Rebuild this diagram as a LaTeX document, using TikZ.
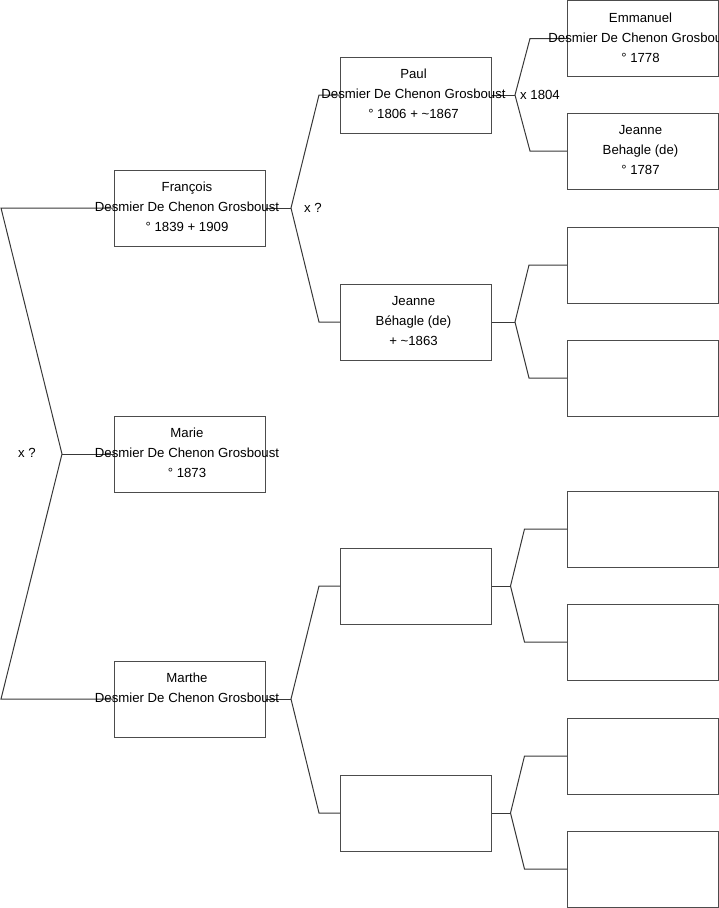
\documentclass[tikz,border=0pt]{standalone}
\usepackage{fontspec}
\setmainfont{Liberation Sans}
\begin{document}
\begin{tikzpicture}[x=1pt,y=-1pt,
  pbox/.style={draw=black!70,line width=1pt,rectangle,minimum width=151pt,minimum height=76pt,inner sep=0pt},
  ptxt/.style={anchor=base,inner sep=0pt,xshift=-2.5pt,font=\fontsize{13.2}{16}\selectfont,text=black},
  lbl/.style={anchor=base west,inner sep=0pt,font=\fontsize{13.2}{16}\selectfont,text=black},
  conn/.style={draw=black!78,line width=1pt,line join=miter}]
\useasboundingbox (0,0) rectangle (719,908);
\begin{scope}
\clip (0,0) rectangle (719,908);
% level 0
\node[pbox] (fr) at (189.5,208) {};
\node[pbox] (ma) at (189.5,454) {};
\node[pbox] (mt) at (189.5,699) {};
% level 1
\node[pbox] (pa) at (416,95) {};
\node[pbox] (je) at (416,322) {};
\node[pbox] (e1) at (416,586) {};
\node[pbox] (e2) at (416,813) {};
% level 2
\node[pbox] (em) at (643,38.5) {};
\node[pbox] (jb) at (643,151) {};
\node[pbox] (g3) at (643,265) {};
\node[pbox] (g4) at (643,378) {};
\node[pbox] (g5) at (643,529) {};
\node[pbox] (g6) at (643,642) {};
\node[pbox] (g7) at (643,756) {};
\node[pbox] (g8) at (643,869) {};
% connectors
\coordinate (r) at (62,454);
\coordinate (ra) at (1,208);
\coordinate (rb) at (1,699);
\draw[conn] (fr.west) -- (ra) -- (r) -- (rb) -- (mt.west);
\draw[conn] (r) -- (ma.west);
\coordinate (fj) at (291,208);
\coordinate (fa) at (319,95);
\coordinate (fb) at (319,322);
\draw[conn] (fr.east) -- (fj);
\draw[conn] (pa.west) -- (fa) -- (fj) -- (fb) -- (je.west);
\coordinate (mj) at (291,699);
\coordinate (mja) at (319,586);
\coordinate (mjb) at (319,813);
\draw[conn] (mt.east) -- (mj);
\draw[conn] (e1.west) -- (mja) -- (mj) -- (mjb) -- (e2.west);
\coordinate (pj) at (515,95);
\coordinate (pja) at (530,38.5);
\coordinate (pjb) at (530,151);
\draw[conn] (pa.east) -- (pj);
\draw[conn] (em.west) -- (pja) -- (pj) -- (pjb) -- (jb.west);
\coordinate (jj) at (515,322);
\coordinate (jja) at (529,265);
\coordinate (jjb) at (529,378);
\draw[conn] (je.east) -- (jj);
\draw[conn] (g3.west) -- (jja) -- (jj) -- (jjb) -- (g4.west);
\coordinate (aj) at (510.5,586);
\coordinate (aja) at (524.5,529);
\coordinate (ajb) at (524.5,642);
\draw[conn] (e1.east) -- (aj);
\draw[conn] (g5.west) -- (aja) -- (aj) -- (ajb) -- (g6.west);
\coordinate (bj) at (510.5,813);
\coordinate (bja) at (524.5,756);
\coordinate (bjb) at (524.5,869);
\draw[conn] (e2.east) -- (bj);
\draw[conn] (g7.west) -- (bja) -- (bj) -- (bjb) -- (g8.west);
% texts
\node[ptxt] (fr1) at ([yshift=-22pt]fr.north) {François};
\node[ptxt] (fr2) at ([yshift=-42pt]fr.north) {Desmier De Chenon Grosboust};
\node[ptxt] (fr3) at ([yshift=-62pt]fr.north) {° 1839 + 1909};
\node[ptxt] (ma1) at ([yshift=-22pt]ma.north) {Marie};
\node[ptxt] (ma2) at ([yshift=-42pt]ma.north) {Desmier De Chenon Grosboust};
\node[ptxt] (ma3) at ([yshift=-62pt]ma.north) {° 1873};
\node[ptxt] (mt1) at ([yshift=-22pt]mt.north) {Marthe};
\node[ptxt] (mt2) at ([yshift=-42pt]mt.north) {Desmier De Chenon Grosboust};
\node[ptxt] (pa1) at ([yshift=-22pt]pa.north) {Paul};
\node[ptxt] (pa2) at ([yshift=-42pt]pa.north) {Desmier De Chenon Grosboust};
\node[ptxt] (pa3) at ([yshift=-62pt]pa.north) {° 1806 + \textasciitilde 1867};
\node[ptxt] (je1) at ([yshift=-22pt]je.north) {Jeanne};
\node[ptxt] (je2) at ([yshift=-42pt]je.north) {Béhagle (de)};
\node[ptxt] (je3) at ([yshift=-62pt]je.north) {+ \textasciitilde 1863};
\node[ptxt] (em1) at ([yshift=-22pt]em.north) {Emmanuel};
\node[ptxt] (em2) at ([yshift=-42pt]em.north) {Desmier De Chenon Grosboust};
\node[ptxt] (em3) at ([yshift=-62pt]em.north) {° 1778};
\node[ptxt] (jb1) at ([yshift=-22pt]jb.north) {Jeanne};
\node[ptxt] (jb2) at ([yshift=-42pt]jb.north) {Behagle (de)};
\node[ptxt] (jb3) at ([yshift=-62pt]jb.north) {° 1787};
\node[lbl] (x0) at (18,457) {x ?};
\node[lbl] (x1) at (304,212) {x ?};
\node[lbl] (x2) at (520,99) {x 1804};
\end{scope}
\end{tikzpicture}
\end{document}
